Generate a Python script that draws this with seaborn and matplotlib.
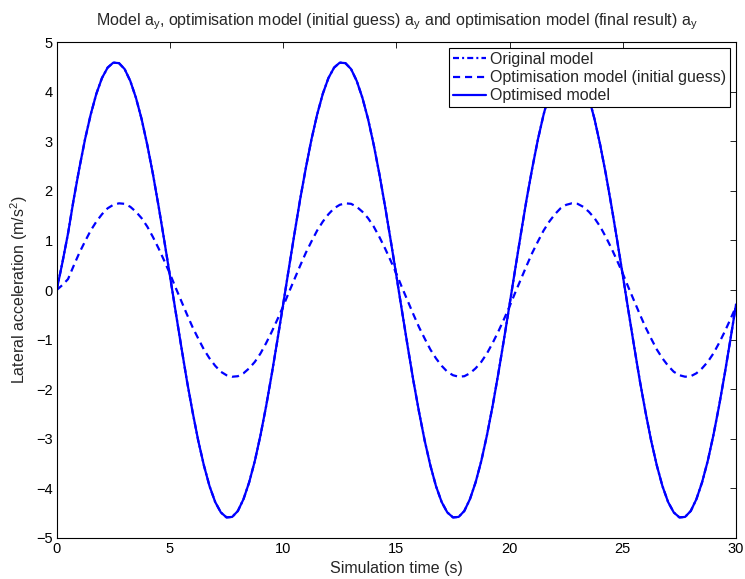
import numpy as np
import matplotlib
matplotlib.use('Agg')
import matplotlib.pyplot as plt
import seaborn as sns

# simulation time, 0 .. 30 s every 0.25 s
time_s = np.linspace(0, 30, 121)

optimised_model = [
    0.00, 0.55, 1.14, 1.83, 2.46, 3.04, 3.54, 3.96, 4.28, 4.49, 4.59, 4.58, 4.46, 4.22, 3.88, 3.45, 2.93, 2.34, 1.69, 1.00, 0.29,
    -0.43, -1.14, -1.83, -2.46, -3.04, -3.54, -3.96, -4.28, -4.49, -4.59, -4.58, -4.46, -4.22, -3.88, -3.45, -2.93, -2.34, -1.69, -1.00, -0.29,
    0.43, 1.14, 1.83, 2.46, 3.04, 3.54, 3.96, 4.28, 4.49, 4.59, 4.58, 4.46, 4.22, 3.88, 3.45, 2.93, 2.34, 1.69, 1.00, 0.29,
    -0.43, -1.14, -1.83, -2.46, -3.04, -3.54, -3.96, -4.28, -4.49, -4.59, -4.58, -4.46, -4.22, -3.88, -3.45, -2.93, -2.34, -1.69, -1.00, -0.29,
    0.43, 1.14, 1.83, 2.46, 3.04, 3.54, 3.96, 4.28, 4.49, 4.59, 4.58, 4.46, 4.22, 3.88, 3.45, 2.93, 2.34, 1.69, 1.00, 0.29,
    -0.43, -1.14, -1.83, -2.46, -3.04, -3.54, -3.96, -4.28, -4.49, -4.59, -4.58, -4.46, -4.22, -3.88, -3.45, -2.93, -2.34, -1.69, -1.00, -0.29,
]
initial_guess = [
    0.00, 0.10,
    0.22, 0.49, 0.75, 0.98, 1.20, 1.38, 1.53, 1.65, 1.72, 1.75, 1.74, 1.68, 1.58, 1.45, 1.28, 1.07, 0.84, 0.59, 0.33, 0.05,
    -0.22, -0.49, -0.75, -0.98, -1.20, -1.38, -1.53, -1.65, -1.72, -1.75, -1.74, -1.68, -1.58, -1.45, -1.28, -1.07, -0.84, -0.59, -0.33, -0.05,
    0.22, 0.49, 0.75, 0.98, 1.20, 1.38, 1.53, 1.65, 1.72, 1.75, 1.74, 1.68, 1.58, 1.45, 1.28, 1.07, 0.84, 0.59, 0.33, 0.05,
    -0.22, -0.49, -0.75, -0.98, -1.20, -1.38, -1.53, -1.65, -1.72, -1.75, -1.74, -1.68, -1.58, -1.45, -1.28, -1.07, -0.84, -0.59, -0.33, -0.05,
    0.22, 0.49, 0.75, 0.98, 1.20, 1.38, 1.53, 1.65, 1.72, 1.75, 1.74, 1.68, 1.58, 1.45, 1.28, 1.07, 0.84, 0.59, 0.33, 0.05,
    -0.22, -0.49, -0.75, -0.98, -1.20, -1.38, -1.53, -1.65, -1.72, -1.75, -1.74, -1.68, -1.58, -1.45, -1.28, -1.07, -0.84, -0.59, -0.33,
]
# the original model sits right under the optimised one
original_model = list(optimised_model)

labels = ['Original model', 'Optimisation model (initial guess)', 'Optimised model']

sns.set_theme(style='white', rc={
    'xtick.direction': 'in', 'ytick.direction': 'in',
    'xtick.top': True, 'ytick.right': True,
    'xtick.major.size': 4, 'ytick.major.size': 4,
    'xtick.major.width': 0.6, 'ytick.major.width': 0.6,
    'axes.edgecolor': 'black', 'axes.linewidth': 0.8,
})
plt.rcParams['font.family'] = ['Liberation Sans', 'DejaVu Sans']
plt.rcParams['mathtext.fontset'] = 'custom'
plt.rcParams['mathtext.rm'] = 'Liberation Sans'
plt.rcParams['mathtext.it'] = 'Liberation Sans'
plt.rcParams['mathtext.default'] = 'regular'

fig = plt.figure(figsize=(7.45, 5.79), dpi=100)
ax = fig.add_axes([0.0761, 0.0713, 0.9119, 0.8556])

sns.lineplot(x=time_s, y=original_model, ax=ax, color='blue', lw=1.6,
             linestyle=(0, (2.7, 1.4, 0.9, 1.4)), label=labels[0])
sns.lineplot(x=time_s, y=initial_guess, ax=ax, color='blue', lw=1.6,
             linestyle=(0, (3.2, 2.2)), label=labels[1])
sns.lineplot(x=time_s, y=optimised_model, ax=ax, color='blue', lw=1.6,
             linestyle='-', label=labels[2])

ax.set_xlim(0, 30)
ax.set_ylim(-5, 5)
ax.set_xticks(range(0, 31, 5))
ax.set_yticks(range(-5, 6))
ax.tick_params(labelsize=10.5, colors='black', pad=3)
ax.set_xlabel('Simulation time (s)', fontsize=11.5, labelpad=4)
ax.set_ylabel('Lateral acceleration (m/s$^2$)', fontsize=11.5, labelpad=4)
ax.set_title('Model a$_y$, optimisation model (initial guess) a$_y$ and '
             'optimisation model (final result) a$_y$', fontsize=11.5, pad=12)

leg = ax.legend(loc='upper right', fontsize=11.5, frameon=True, fancybox=False,
                edgecolor='black', framealpha=1, handlelength=2.1,
                handletextpad=0.25, borderpad=0.25, labelspacing=0.2,
                borderaxespad=0.35)
leg.get_frame().set_linewidth(0.8)

fig.savefig('out.png', dpi=100)
